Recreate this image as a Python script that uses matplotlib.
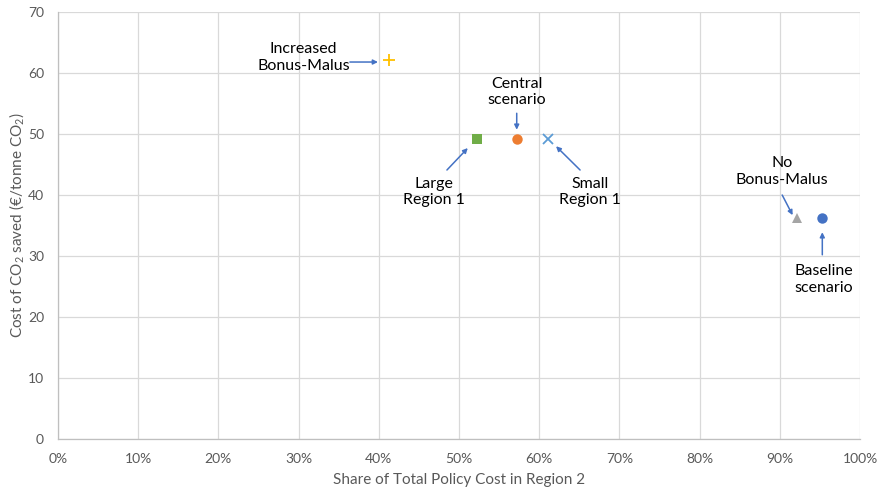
import matplotlib
matplotlib.use("Agg")
import matplotlib.pyplot as plt
from matplotlib.ticker import PercentFormatter

plt.rcParams['font.family'] = ['Lato', 'DejaVu Sans']
plt.rcParams['mathtext.fontset'] = 'custom'
plt.rcParams['mathtext.rm'] = 'Lato'
plt.rcParams['mathtext.it'] = 'Lato:italic'

# Scenario results: share of policy cost in Region 2 (%) and cost of CO2 saved
scenarios = ["Baseline scenario", "Central scenario", "No Bonus-Malus",
             "Increased Bonus-Malus", "Small Region 1", "Large Region 1"]
share_region2 = [95.3, 57.2, 92.1, 41.3, 61.1, 52.2]
cost_co2 = [36.2, 49.2, 36.2, 62.1, 49.2, 49.2]
colors = ["#4472C4", "#ED7D31", "#A5A5A5", "#FFC000", "#5B9BD5", "#70AD47"]
markers = ["o", "o", "^", "+", "x", "s"]
sizes = [7.5, 7.5, 7.5, 8.5, 7, 7]

labels = ["Baseline\nscenario", "Central\nscenario", "No\nBonus-Malus",
          "Increased\nBonus-Malus", "Small\nRegion 1", "Large\nRegion 1"]
label_pos = [(95.5, 26.1), (57.2, 56.9), (90.3, 43.9),
             (30.6, 62.5), (66.3, 40.5), (46.9, 40.5)]
arrow_tail = [(95.3, 30.2), (57.2, 53.4), (90.3, 40.0),
              (36.4, 61.8), (65.1, 44.1), (48.5, 44.1)]
arrow_head = [(95.3, 33.9), (57.2, 50.7), (91.6, 36.7),
              (39.9, 61.8), (62.1, 48.0), (51.1, 47.7)]

fig = plt.figure(figsize=(8.78, 4.9), dpi=100)
ax = fig.add_axes([0.066, 0.104, 0.9135, 0.8715])

for x, y, c, m, s in zip(share_region2, cost_co2, colors, markers, sizes):
    if m in ("+", "x"):
        ax.plot(x, y, marker=m, color=c, markersize=s, markeredgewidth=1.3,
                linestyle="none", zorder=3)
    else:
        ax.plot(x, y, marker=m, color=c, markersize=s, markeredgewidth=0,
                linestyle="none", zorder=3)

for lab, (tx, ty), tail, head in zip(labels, label_pos, arrow_tail, arrow_head):
    ax.text(tx, ty, lab, ha="center", va="center", fontsize=11.5,
            color="#000000", linespacing=1.25)
    ax.annotate("", xy=head, xytext=tail,
                arrowprops=dict(arrowstyle="-|>", color="#4472C4", lw=1.1,
                                mutation_scale=7, shrinkA=0, shrinkB=0))

ax.set_xlim(0, 100)
ax.set_ylim(0, 70)
ax.set_xticks(range(0, 101, 10))
ax.set_yticks(range(0, 71, 10))
ax.xaxis.set_major_formatter(PercentFormatter(decimals=0))
ax.grid(True, color="#D9D9D9", linewidth=0.9)
ax.set_axisbelow(True)
for side in ("top", "right"):
    ax.spines[side].set_visible(False)
for side in ("left", "bottom"):
    ax.spines[side].set_color("#BFBFBF")
    ax.spines[side].set_linewidth(0.9)
ax.tick_params(length=0, colors="#595959", labelsize=10, pad=10)

ax.set_xlabel("Share of Total Policy Cost in Region 2", fontsize=11,
              color="#595959", labelpad=6)
ax.set_ylabel("Cost of CO$_2$ saved (€/tonne CO$_2$)", fontsize=11,
              color="#595959", va="center")
ax.yaxis.set_label_coords(-0.051, 0.5)

fig.savefig("out.png", dpi=100)
